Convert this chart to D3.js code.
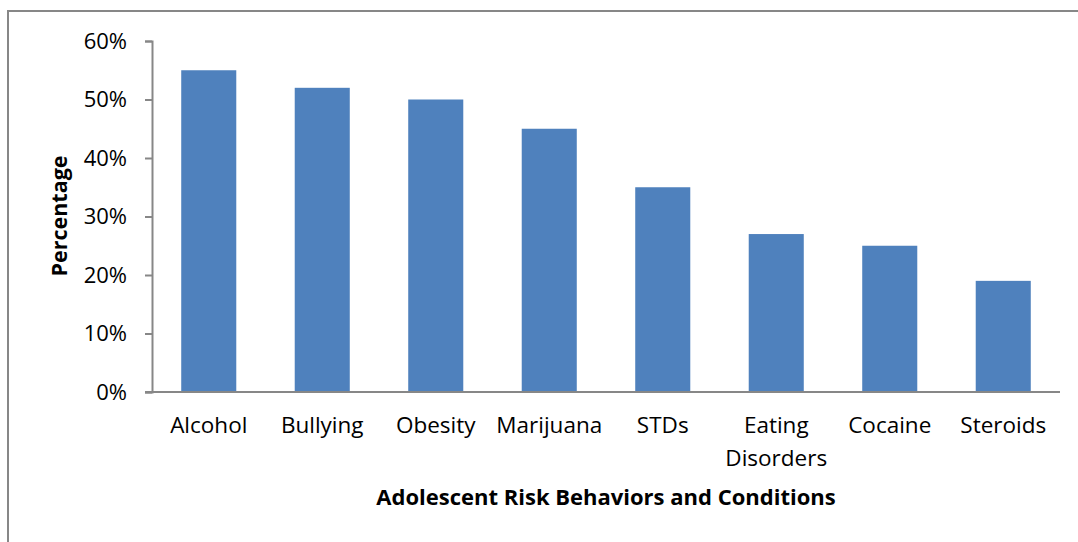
<!DOCTYPE html>
<html><head><meta charset="utf-8">
<script src="https://cdn.jsdelivr.net/npm/d3@7"></script>
<style>body{margin:0;background:#fff}svg{display:block}</style>
</head><body>
<svg id="c" width="1078" height="542"></svg>
<script>
const categories = ["Alcohol","Bullying","Obesity","Marijuana","STDs","Eating Disorders","Cocaine","Steroids"];
const values = [55,52,50,45,35,27,25,19];
const yTicks = [0,10,20,30,40,50,60];

const svg = d3.select("#c");
const font = "'Open Sans', Lato, sans-serif";
svg.append("rect").attr("x",8).attr("y",11).attr("width",1090).attr("height",560)
  .attr("fill","#fff").attr("stroke","#878787").attr("stroke-width",2);

const m = {l:152, r:1060, t:41, b:392};
const x = d3.scaleBand().domain(categories).range([m.l,m.r]).paddingInner(0.515).paddingOuter(0.2575);
const y = d3.scaleLinear().domain([0,60]).range([m.b,m.t]);

svg.append("g").selectAll("rect").data(values).join("rect")
  .attr("x",(d,i)=>x(categories[i])).attr("width",x.bandwidth())
  .attr("y",d=>y(d)).attr("height",d=>y(0)-y(d)).attr("fill","#4f81bd");

const ya = svg.append("g").attr("transform",`translate(${m.l},0)`)
  .call(d3.axisLeft(y).tickValues(yTicks).tickFormat(d=>d+"%").tickSizeOuter(0).tickSize(7).tickPadding(18));
ya.select(".domain").attr("stroke","#878787").attr("stroke-width",2);
ya.selectAll("line").attr("stroke","#878787").attr("stroke-width",2);
ya.selectAll("text").attr("font-family",font).attr("font-size",22).attr("fill","#000");

svg.append("line").attr("x1",m.l-7).attr("x2",m.r).attr("y1",m.b).attr("y2",m.b)
  .attr("stroke","#878787").attr("stroke-width",2);

const lab = svg.append("g");
categories.forEach(c=>{
  const words = c==="Eating Disorders" ? ["Eating","Disorders"] : [c];
  const t = lab.append("text").attr("x",x(c)+x.bandwidth()/2).attr("y",433)
    .attr("text-anchor","middle").attr("font-family",font).attr("font-size",22.5).attr("fill","#000");
  words.forEach((w,i)=>t.append("tspan").attr("x",x(c)+x.bandwidth()/2).attr("dy",i?33:0).text(w));
});

svg.append("text").attr("x",606).attr("y",505).attr("text-anchor","middle")
  .attr("font-family",font).attr("font-size",22).attr("font-weight","bold").text("Adolescent Risk Behaviors and Conditions");
svg.append("text").attr("transform","translate(67,216) rotate(-90)").attr("text-anchor","middle")
  .attr("font-family",font).attr("font-size",21.5).attr("font-weight","bold").text("Percentage");
</script>
</body></html>
